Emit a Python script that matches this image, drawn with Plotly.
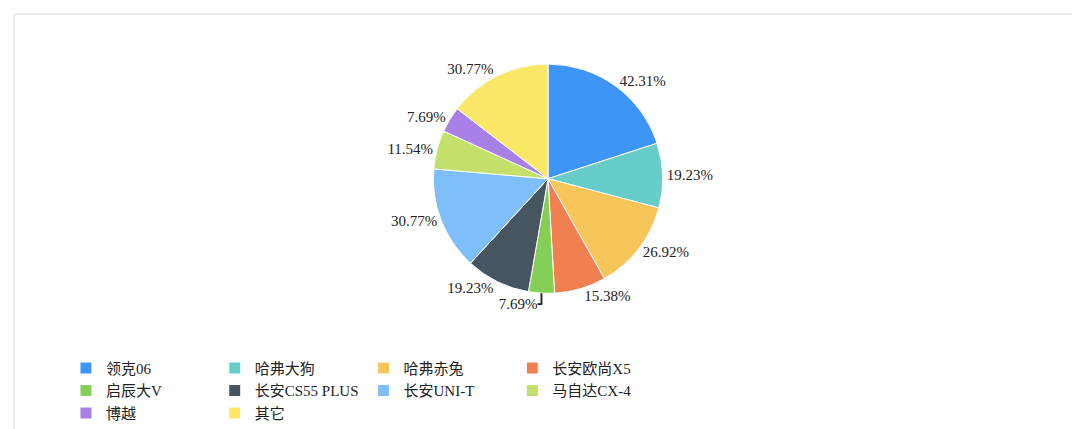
import plotly.graph_objects as go

brands = ["领克06", "哈弗大狗", "哈弗赤兔", "长安欧尚X5", "启辰大V", "长安CS55 PLUS",
          "长安UNI-T", "马自达CX-4", "博越", "其它"]
counts = [11, 5, 7, 4, 2, 5, 8, 3, 2, 8]
pct_labels = ["42.31%", "19.23%", "26.92%", "15.38%", "7.69%", "19.23%",
              "30.77%", "11.54%", "7.69%", "30.77%"]
colors = ["#3f95f5", "#66cdc9", "#f6c65b", "#f0804f", "#86cf57", "#46555f",
          "#7ebffa", "#c3e06a", "#a880e6", "#fae766"]

fig = go.Figure(go.Pie(
    labels=brands, values=counts, text=pct_labels,
    texttemplate="%{text}", textposition="outside",
    sort=False, direction="clockwise", rotation=0,
    marker=dict(colors=colors, line=dict(color="white", width=1)),
    outsidetextfont=dict(size=15, color="#222"),
    domain=dict(x=[0.25, 0.75], y=[0.33, 0.88]),
))
fig.update_layout(
    width=1080, height=429, paper_bgcolor="white",
    margin=dict(l=6, r=6, t=6, b=6),
    font=dict(family="Liberation Serif, Noto Sans CJK SC", size=15, color="#222"),
    legend=dict(orientation="h", x=0.075, y=0.19, xanchor="left", yanchor="top",
                font=dict(size=15), traceorder="normal", itemwidth=30),
    shapes=[dict(type="rect", xref="paper", yref="paper", x0=0, x1=1,
                 y0=0, y1=1, line=dict(color="#dddddd", width=1))],
)
fig.write_html("out.html")
